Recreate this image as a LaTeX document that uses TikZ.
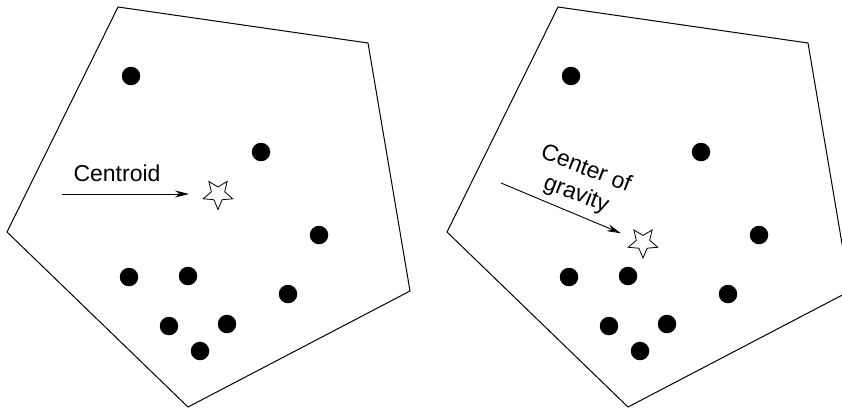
\documentclass[tikz,border=0pt]{standalone}
\usepackage{fontspec}
\setmainfont{Liberation Sans}
\usetikzlibrary{shapes.geometric,arrows.meta}
\tikzset{
  pt/.style={circle, fill=black, inner sep=0pt, minimum size=18.5pt},
  mass/.style={star, star points=5, star point ratio=2.2, shape border rotate=180,
    draw, fill=white, inner sep=0pt, minimum size=31pt, line width=0.8pt},
  lbl/.style={font=\fontsize{23}{27}\selectfont, align=center},
  arr/.style={-{Stealth[length=14pt,width=7pt]}, line width=0.9pt},
}
\begin{document}
\begin{tikzpicture}[x=1pt,y=-1pt]
        \useasboundingbox (0,0) rectangle (842,408);
        \clip (0,0) rectangle (842,408);
        % two panels with the same points
        \foreach \p/\dx in {a/0, b/440} {
            \draw[line width=1pt, line join=miter] (118+\dx,7) -- (368+\dx,43) -- (410+\dx,291) -- (188+\dx,407) -- (7+\dx,232) -- cycle;
            \foreach \x/\y [count=\k] in {131/76, 261/152, 319/235, 129/277, 188/276, 288/294, 169/326, 227/324, 200/351} {
                \node[pt] (\p dot\k) at (\x+\dx,\y) {};
            }
        }
        % Centroid
        \node[mass] (centroid) at (218,194) {};
        \node[lbl, anchor=base] (centroidlbl) at (117,181) {Centroid};
        \coordinate (centroidfrom) at (62,194);
        \draw[arr, shorten >=29pt] (centroidfrom) -- (centroid.center);
        % Center of gravity
        \node[mass] (cog) at (643,242.5) {};
        \node[lbl, rotate=-21] (coglbl) at (581,182) {Center of\\gravity};
        \coordinate (cogfrom) at (501,183);
        \draw[arr, shorten >=24pt] (cogfrom) -- (cog.center);
    \end{tikzpicture}
\end{document}
